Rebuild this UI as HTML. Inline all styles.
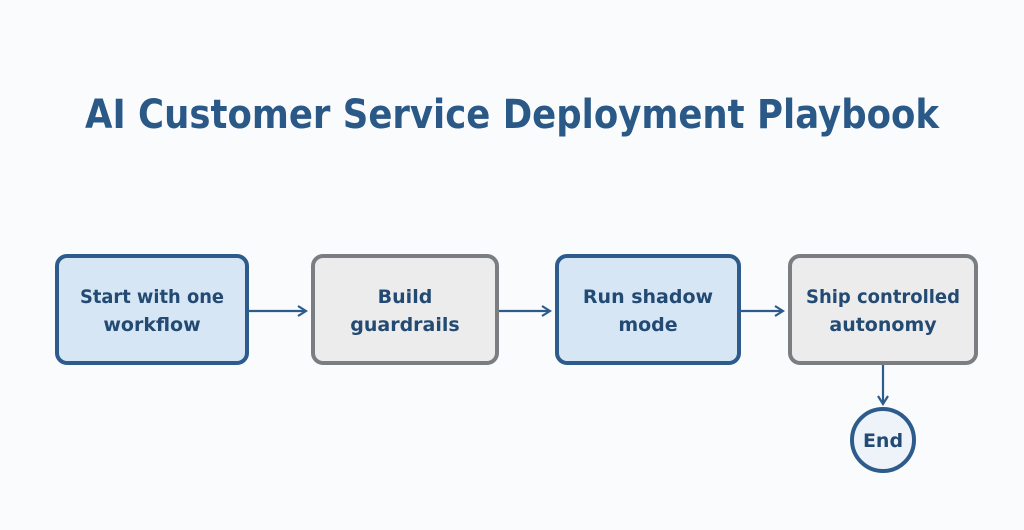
<!DOCTYPE html>
<html><head><style>
html,body{margin:0;padding:0;background:#fafbfc;}
svg{display:block}
text{font-family:"DejaVu Sans","Liberation Sans",sans-serif;}
</style></head><body>
<svg width="1024" height="530" viewBox="0 0 1024 530" xmlns="http://www.w3.org/2000/svg">
<defs>
<marker id="a" markerWidth="12" markerHeight="12" refX="10" refY="6" orient="auto" markerUnits="userSpaceOnUse">
<path d="M2,1 L10,6 L2,11" fill="none" stroke="#2c5b8c" stroke-width="2.2"/>
</marker>
</defs>
<text x="512" y="128" text-anchor="middle" font-size="40" font-weight="bold" fill="#2a5887" textLength="854" lengthAdjust="spacingAndGlyphs">AI Customer Service Deployment Playbook</text>

<rect x="57" y="256" width="190" height="107" rx="10" fill="#d6e6f5" stroke="#2c5b8c" stroke-width="4"/>
<rect x="313" y="256" width="184" height="107" rx="10" fill="#ececed" stroke="#7a7d82" stroke-width="4"/>
<rect x="557" y="256" width="182" height="107" rx="10" fill="#d6e6f5" stroke="#2c5b8c" stroke-width="4"/>
<rect x="790" y="256" width="186" height="107" rx="10" fill="#ececed" stroke="#7a7d82" stroke-width="4"/>

<g stroke="#2c5b8c" stroke-width="2.2" fill="none">
<line x1="249" y1="311" x2="306" y2="311" marker-end="url(#a)"/>
<line x1="499" y1="311" x2="550" y2="311" marker-end="url(#a)"/>
<line x1="741" y1="311" x2="783" y2="311" marker-end="url(#a)"/>
<line x1="883" y1="365" x2="883" y2="404" marker-end="url(#a)"/>
</g>
<circle cx="883" cy="440" r="31" fill="#eef3f9" stroke="#2c5b8c" stroke-width="4"/>

<g font-size="19" font-weight="bold" fill="#234a73" text-anchor="middle">
<text x="152" y="303" textLength="144" lengthAdjust="spacingAndGlyphs">Start with one</text><text x="152" y="331">workflow</text>
<text x="405" y="303">Build</text><text x="405" y="331">guardrails</text>
<text x="648" y="303">Run shadow</text><text x="648" y="331">mode</text>
<text x="883" y="303" textLength="154" lengthAdjust="spacingAndGlyphs">Ship controlled</text><text x="883" y="331">autonomy</text>
<text x="883" y="447">End</text>
</g>
</svg>
</body></html>
